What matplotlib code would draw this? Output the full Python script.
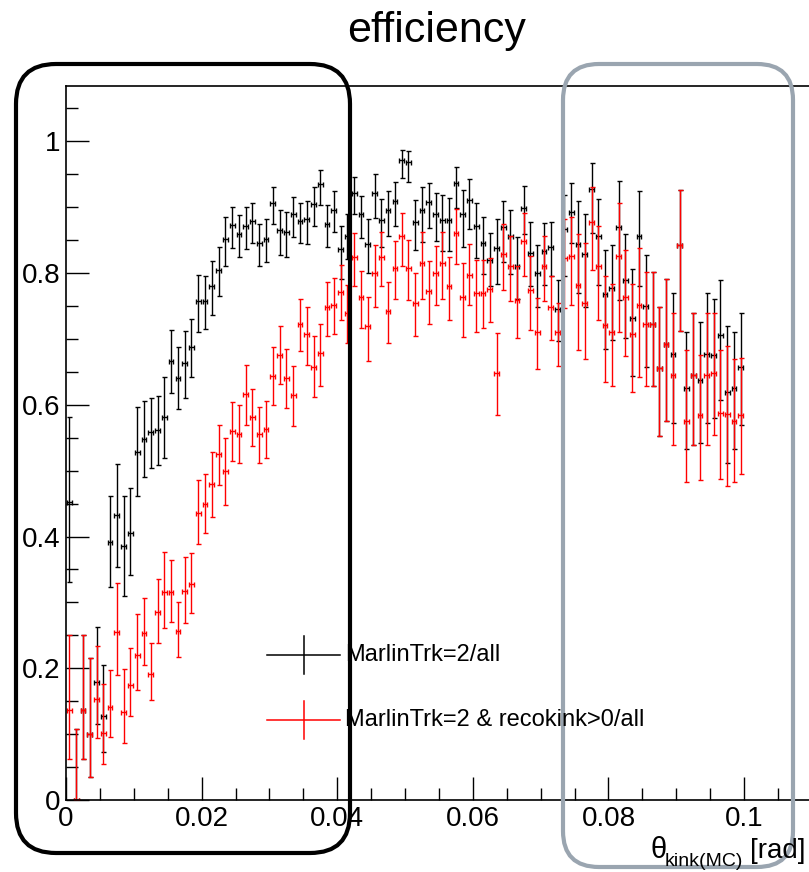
import numpy as np
import matplotlib
matplotlib.use("Agg")
import matplotlib.pyplot as plt
from matplotlib.patches import FancyBboxPatch
from matplotlib.lines import Line2D
from matplotlib.transforms import IdentityTransform
from matplotlib.ticker import MultipleLocator, FuncFormatter

plt.rcParams['font.family'] = ['Liberation Sans', 'DejaVu Sans']

# ---------------- data ----------------
theta_min = 0.0
bin_width = 0.001
n_bins = 100

title = "efficiency"
label_all = "MarlinTrk=2/all"
label_kink = "MarlinTrk=2 & recokink>0/all"

eff_all = [0.453, 0.000, 0.136, 0.100, 0.179, 0.128, 0.391, 0.432, 0.385, 0.405,
           0.529, 0.548, 0.558, 0.562, 0.582, 0.667, 0.640, 0.663, 0.687, 0.757,
           0.757, 0.781, 0.804, 0.851, 0.873, 0.859, 0.872, 0.879, 0.845, 0.852,
           0.907, 0.866, 0.863, 0.889, 0.879, 0.882, 0.905, 0.935, 0.874, 0.896,
           0.836, 0.857, 0.921, 0.890, 0.844, 0.922, 0.880, 0.895, 0.910, 0.971,
           0.968, 0.878, 0.895, 0.908, 0.890, 0.881, 0.880, 0.936, 0.889, 0.911,
           0.872, 0.846, 0.820, 0.838, 0.870, 0.856, 0.810, 0.899, 0.831, 0.800,
           0.833, 0.840, 0.746, 0.867, 0.892, 0.844, 0.829, 0.927, 0.857, 0.768,
           0.778, 0.870, 0.790, 0.732, 0.857, 0.750, 0.722, 0.656, 0.692, 0.677,
           0.842, 0.625, 0.645, 0.638, 0.677, 0.676, 0.706, 0.620, 0.625, 0.658]

eff_all_hi = [0.582, 0.108, 0.251, 0.216, 0.262, 0.205, 0.461, 0.510, 0.462, 0.473,
              0.596, 0.606, 0.610, 0.614, 0.642, 0.714, 0.688, 0.712, 0.730, 0.797,
              0.795, 0.819, 0.839, 0.885, 0.901, 0.888, 0.901, 0.906, 0.875, 0.882,
              0.931, 0.895, 0.893, 0.916, 0.906, 0.910, 0.931, 0.957, 0.903, 0.924,
              0.871, 0.890, 0.946, 0.917, 0.882, 0.951, 0.912, 0.925, 0.939, 0.987,
              0.985, 0.911, 0.930, 0.937, 0.922, 0.919, 0.914, 0.961, 0.926, 0.943,
              0.906, 0.885, 0.861, 0.882, 0.909, 0.896, 0.855, 0.932, 0.877, 0.843,
              0.876, 0.878, 0.789, 0.918, 0.937, 0.910, 0.890, 0.967, 0.912, 0.835,
              0.843, 0.940, 0.859, 0.806, 0.924, 0.827, 0.802, 0.748, 0.791, 0.770,
              0.926, 0.710, 0.740, 0.726, 0.770, 0.760, 0.790, 0.720, 0.710, 0.739]

eff_all_lo = [0.331, 0.000, 0.062, 0.035, 0.115, 0.073, 0.324, 0.354, 0.310, 0.341,
              0.462, 0.491, 0.504, 0.508, 0.519, 0.618, 0.593, 0.611, 0.642, 0.711,
              0.715, 0.737, 0.765, 0.810, 0.838, 0.825, 0.836, 0.845, 0.811, 0.817,
              0.875, 0.828, 0.825, 0.855, 0.845, 0.844, 0.871, 0.904, 0.839, 0.862,
              0.791, 0.822, 0.890, 0.853, 0.800, 0.883, 0.840, 0.856, 0.871, 0.944,
              0.938, 0.835, 0.847, 0.868, 0.849, 0.833, 0.834, 0.899, 0.839, 0.867,
              0.823, 0.799, 0.780, 0.784, 0.817, 0.799, 0.760, 0.860, 0.780, 0.749,
              0.782, 0.795, 0.697, 0.796, 0.845, 0.770, 0.749, 0.861, 0.782, 0.685,
              0.699, 0.759, 0.702, 0.644, 0.780, 0.657, 0.628, 0.553, 0.576, 0.572,
              0.712, 0.533, 0.539, 0.542, 0.572, 0.580, 0.607, 0.511, 0.533, 0.569]

eff_kink = [0.136, 0.000, 0.136, 0.100, 0.154, 0.102, 0.141, 0.255, 0.134, 0.174,
            0.220, 0.253, 0.192, 0.285, 0.316, 0.316, 0.257, 0.318, 0.328, 0.436,
            0.450, 0.479, 0.525, 0.500, 0.560, 0.556, 0.617, 0.581, 0.555, 0.564,
            0.644, 0.676, 0.641, 0.615, 0.723, 0.707, 0.658, 0.678, 0.748, 0.752,
            0.771, 0.740, 0.824, 0.763, 0.719, 0.800, 0.824, 0.743, 0.807, 0.856,
            0.808, 0.755, 0.816, 0.773, 0.800, 0.816, 0.781, 0.861, 0.764, 0.797,
            0.769, 0.769, 0.776, 0.649, 0.829, 0.810, 0.759, 0.849, 0.774, 0.711,
            0.810, 0.749, 0.710, 0.823, 0.826, 0.782, 0.755, 0.878, 0.810, 0.721,
            0.711, 0.826, 0.763, 0.708, 0.751, 0.722, 0.722, 0.656, 0.692, 0.645,
            0.842, 0.575, 0.645, 0.584, 0.645, 0.648, 0.588, 0.586, 0.575, 0.585]

eff_kink_hi = [0.251, 0.108, 0.251, 0.216, 0.234, 0.176, 0.198, 0.330, 0.199, 0.231,
               0.282, 0.306, 0.238, 0.336, 0.377, 0.364, 0.301, 0.369, 0.375, 0.486,
               0.495, 0.528, 0.569, 0.550, 0.605, 0.600, 0.661, 0.624, 0.597, 0.606,
               0.687, 0.719, 0.685, 0.659, 0.761, 0.748, 0.704, 0.722, 0.787, 0.792,
               0.812, 0.782, 0.861, 0.803, 0.764, 0.843, 0.862, 0.787, 0.849, 0.891,
               0.850, 0.800, 0.862, 0.819, 0.841, 0.862, 0.825, 0.897, 0.816, 0.844,
               0.820, 0.820, 0.823, 0.709, 0.874, 0.856, 0.810, 0.891, 0.826, 0.762,
               0.856, 0.796, 0.754, 0.882, 0.885, 0.859, 0.845, 0.930, 0.872, 0.795,
               0.783, 0.907, 0.835, 0.784, 0.838, 0.802, 0.802, 0.748, 0.791, 0.740,
               0.926, 0.683, 0.740, 0.676, 0.740, 0.740, 0.683, 0.689, 0.670, 0.671]

eff_kink_lo = [0.062, 0.000, 0.062, 0.035, 0.094, 0.054, 0.096, 0.190, 0.086, 0.127,
               0.167, 0.205, 0.152, 0.239, 0.261, 0.271, 0.217, 0.269, 0.284, 0.388,
               0.405, 0.430, 0.478, 0.448, 0.514, 0.512, 0.569, 0.537, 0.511, 0.519,
               0.599, 0.631, 0.595, 0.568, 0.681, 0.660, 0.612, 0.629, 0.705, 0.708,
               0.729, 0.694, 0.780, 0.716, 0.667, 0.749, 0.780, 0.694, 0.760, 0.811,
               0.759, 0.704, 0.761, 0.723, 0.752, 0.761, 0.728, 0.814, 0.703, 0.752,
               0.711, 0.716, 0.725, 0.585, 0.774, 0.757, 0.701, 0.796, 0.714, 0.655,
               0.757, 0.699, 0.659, 0.747, 0.752, 0.683, 0.670, 0.805, 0.729, 0.635,
               0.628, 0.711, 0.674, 0.619, 0.642, 0.628, 0.628, 0.553, 0.576, 0.539,
               0.712, 0.483, 0.539, 0.486, 0.539, 0.554, 0.487, 0.476, 0.483, 0.495]

# ---------------- figure ----------------
W, H = 809, 872
fig = plt.figure(figsize=(W / 100, H / 100), dpi=100)


def fx(px):
    return px / W


def fy(py):
    return 1 - py / H


x_max = 0.1175
px_per_unit = 6781.0
ax = fig.add_axes([fx(66), fy(800), (x_max * px_per_unit) / W, (800 - 86) / H])

centers = theta_min + bin_width * (np.arange(n_bins) + 0.5)


def draw(vals, hi, lo, color):
    v = np.asarray(vals)
    err = [v - np.asarray(lo), np.asarray(hi) - v]
    ax.errorbar(centers, v, yerr=err, xerr=0.35 * bin_width, fmt='none',
                ecolor=color, elinewidth=1.0, capsize=1.8, capthick=1.0)


draw(eff_all, eff_all_hi, eff_all_lo, 'black')
draw(eff_kink, eff_kink_hi, eff_kink_lo, '#ff0000')

ax.set_xlim(0, x_max)
ax.set_ylim(0, 1.084)
ax.xaxis.set_major_locator(MultipleLocator(0.02))
ax.xaxis.set_minor_locator(MultipleLocator(0.005))
ax.yaxis.set_major_locator(MultipleLocator(0.2))
ax.yaxis.set_minor_locator(MultipleLocator(0.05))
fmt = FuncFormatter(lambda v, p: ("%g" % round(v, 6)))
ax.xaxis.set_major_formatter(fmt)
ax.yaxis.set_major_formatter(fmt)
ax.tick_params(which='major', direction='in', length=16.5, width=1.0,
               labelsize=20, pad=4, top=False, right=False)
ax.tick_params(which='minor', direction='in', length=8.3, width=1.0,
               top=False, right=False)
for s in ax.spines.values():
    s.set_linewidth(1.2)

# title
fig.text(fx(437), fy(42), title, ha='center', va='baseline', fontsize=31)

# x-axis title
fig.text(fx(650), fy(858), "θ", ha='left', va='baseline', fontsize=21)
fig.text(fx(665), fy(866), "kink(MC)", ha='left', va='baseline', fontsize=14)
fig.text(fx(806), fy(858), "[rad]", ha='right', va='baseline', fontsize=20)

# legend (manual, ROOT style)
for (py, col, lab) in [(655, 'black', label_all), (720, '#ff0000', label_kink)]:
    fig.add_artist(Line2D([fx(267), fx(340)], [fy(py), fy(py)], color=col, lw=1.1))
    fig.add_artist(Line2D([fx(303.5), fx(303.5)], [fy(py - 19), fy(py + 19)], color=col, lw=1.1))
    fig.text(fx(345), fy(py), lab, ha='left', va='center', fontsize=17)

# rounded highlight boxes (pixel coordinates)
box_black = FancyBboxPatch((16, H - 853), 334, 789,
                           boxstyle="round,pad=0,rounding_size=40",
                           transform=IdentityTransform(), fill=False,
                           ec='black', lw=3.0)
box_gray = FancyBboxPatch((563, H - 867), 230, 803,
                          boxstyle="round,pad=0,rounding_size=36",
                          transform=IdentityTransform(), fill=False,
                          ec='#9aa5b0', lw=3.0)
fig.add_artist(box_black)
fig.add_artist(box_gray)

fig.savefig('out.png', dpi=100)
